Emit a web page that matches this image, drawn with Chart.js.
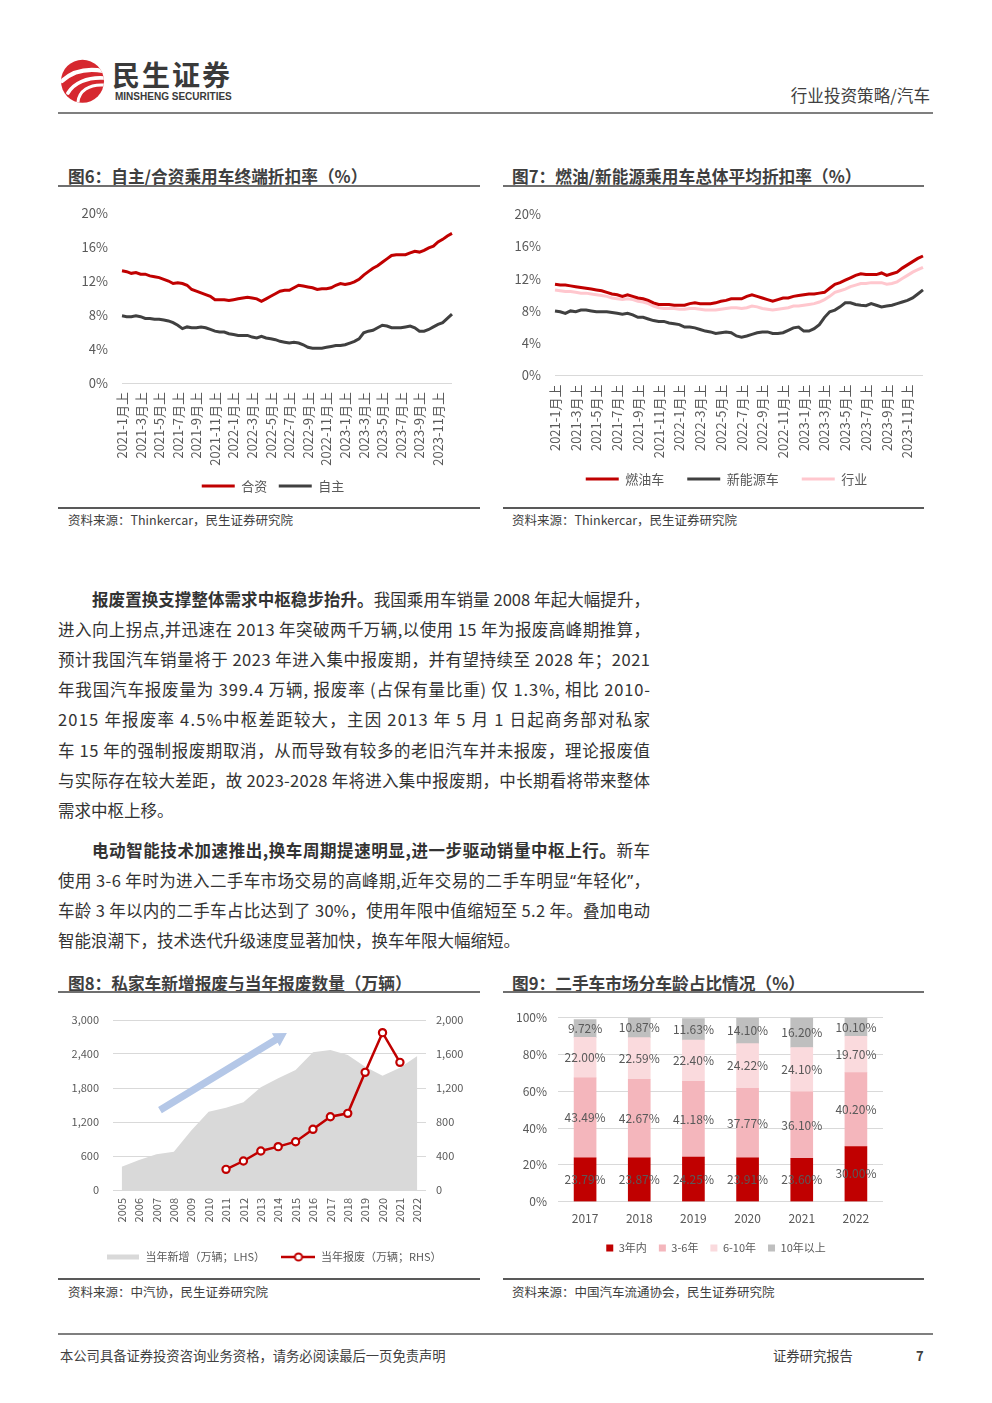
<!DOCTYPE html>
<html lang="zh-CN">
<head>
<meta charset="utf-8">
<title>行业投资策略/汽车</title>
<script src="https://cdn.jsdelivr.net/npm/chart.js@4.4.1/dist/chart.umd.min.js"></script>
<style>
  html, body { margin: 0; padding: 0; background: #fff; }
  body { width: 992px; height: 1403px; position: relative; overflow: hidden;
         font-family: "Noto Sans CJK SC", "Noto Sans", sans-serif; color: #404040; }
  .rule { position: absolute; }
  .fig-title { position: absolute; font-size: 16.7px; font-weight: bold; color: #3f3f3f; line-height: 20px; white-space: nowrap; }
  .src { position: absolute; font-size: 12.5px; color: #404040; line-height: 16px; white-space: nowrap; }
  canvas { position: absolute; }
  .jline { position: absolute; left: 58px; width: 592px; font-size: 16.5px; line-height: 22px; color: #333; white-space: nowrap; }
  .jline b { color: #333; }
  .indent { padding-left: 34px; width: 558px; }
</style>
</head>
<body>

<!-- header -->
<svg style="position:absolute;left:58px;top:56px" width="52" height="52" viewBox="0 0 52 52">
  <defs><clipPath id="logoClip"><circle cx="24.5" cy="25.3" r="21.5"/></clipPath></defs>
  <circle cx="24.5" cy="25.3" r="21.5" fill="#d6282f"/>
  <g clip-path="url(#logoClip)" fill="none" stroke="#fff" stroke-linecap="round">
    <path d="M4 25 C 14 16, 28 12, 45 15" stroke-width="4.2"/>
    <path d="M10 37 C 16 27, 29 21, 46 22" stroke-width="3.6"/>
    <path d="M20 46 C 21 35, 31 28, 46 29" stroke-width="3"/>
  </g>
</svg>
<div style="position:absolute;left:112px;top:58px;font-size:28px;font-weight:bold;color:#3a3a3a;letter-spacing:2px;line-height:32px;white-space:nowrap">民生证券</div>
<div style="position:absolute;left:115px;top:90px;font-family:'Liberation Sans',Arial,sans-serif;font-size:11px;font-weight:bold;color:#3a3a3a;line-height:12px;white-space:nowrap;transform:scaleX(0.91);transform-origin:left top">MINSHENG SECURITIES</div>
<div style="position:absolute;right:62px;top:85px;font-size:16.6px;color:#404040;line-height:20px;white-space:nowrap">行业投资策略/汽车</div>
<div class="rule" style="left:58px;top:112px;width:875px;height:2px;background:#7f7f7f"></div>

<!-- figure 6 / 7 -->
<div class="fig-title" style="left:68px;top:166px">图6：自主/合资乘用车终端折扣率（%）</div>
<div class="rule" style="left:58px;top:185px;width:422px;height:1.5px;background:#6f6f6f"></div>
<div class="fig-title" style="left:512px;top:166px">图7：燃油/新能源乘用车总体平均折扣率（%）</div>
<div class="rule" style="left:503px;top:185px;width:421px;height:1.5px;background:#6f6f6f"></div>
<canvas id="fig6" width="422" height="310" style="left:58px;top:195px"></canvas>
<canvas id="fig7" width="421" height="310" style="left:503px;top:195px"></canvas>
<div class="rule" style="left:58px;top:507px;width:422px;height:2px;background:#595959"></div>
<div class="rule" style="left:503px;top:507px;width:421px;height:2px;background:#595959"></div>
<div class="src" style="left:68px;top:512px">资料来源：Thinkercar，民生证券研究院</div>
<div class="src" style="left:512px;top:512px">资料来源：Thinkercar，民生证券研究院</div>

<!-- body text -->
<div class="jline indent" style="top:588px"><span><b>报废置换支撑整体需求中枢稳步抬升。</b>我国乘用车销量 2008 年起大幅提升，</span></div>
<div class="jline" style="top:618px"><span>进入向上拐点,并迅速在 2013 年突破两千万辆,以使用 15 年为报废高峰期推算，</span></div>
<div class="jline" style="top:648px"><span>预计我国汽车销量将于 2023 年进入集中报废期，并有望持续至 2028 年；2021</span></div>
<div class="jline" style="top:678px"><span>年我国汽车报废量为 399.4 万辆, 报废率 (占保有量比重) 仅 1.3%, 相比 2010-</span></div>
<div class="jline" style="top:708px"><span>2015 年报废率 4.5%中枢差距较大，主因 2013 年 5 月 1 日起商务部对私家</span></div>
<div class="jline" style="top:739px"><span>车 15 年的强制报废期取消，从而导致有较多的老旧汽车并未报废，理论报废值</span></div>
<div class="jline" style="top:769px"><span>与实际存在较大差距，故 2023-2028 年将进入集中报废期，中长期看将带来整体</span></div>
<div class="jline" style="top:799px" data-last="1"><span>需求中枢上移。</span></div>
<div class="jline indent" style="top:839px"><span><b>电动智能技术加速推出,换车周期提速明显,进一步驱动销量中枢上行。</b>新车</span></div>
<div class="jline" style="top:869px"><span>使用 3-6 年时为进入二手车市场交易的高峰期,近年交易的二手车明显<span style="font-family:'Noto Sans',sans-serif">“</span>年轻化<span style="font-family:'Noto Sans',sans-serif">”</span>，</span></div>
<div class="jline" style="top:899px"><span>车龄 3 年以内的二手车占比达到了 30%，使用年限中值缩短至 5.2 年。叠加电动</span></div>
<div class="jline" style="top:929px" data-last="1"><span>智能浪潮下，技术迭代升级速度显著加快，换车年限大幅缩短。</span></div>

<!-- figure 8 / 9 -->
<div class="fig-title" style="left:68px;top:973px">图8：私家车新增报废与当年报废数量（万辆）</div>
<div class="rule" style="left:58px;top:991px;width:422px;height:1.5px;background:#6f6f6f"></div>
<div class="fig-title" style="left:512px;top:973px">图9：二手车市场分车龄占比情况（%）</div>
<div class="rule" style="left:503px;top:991px;width:421px;height:1.5px;background:#6f6f6f"></div>
<canvas id="fig8" width="422" height="275" style="left:58px;top:1000px"></canvas>
<canvas id="fig9" width="421" height="266" style="left:503px;top:1000px"></canvas>
<div class="rule" style="left:58px;top:1278px;width:422px;height:2px;background:#595959"></div>
<div class="rule" style="left:503px;top:1278px;width:421px;height:2px;background:#595959"></div>
<div class="src" style="left:68px;top:1284px">资料来源：中汽协，民生证券研究院</div>
<div class="src" style="left:512px;top:1284px">资料来源：中国汽车流通协会，民生证券研究院</div>

<!-- footer -->
<div class="rule" style="left:58px;top:1333px;width:875px;height:2px;background:#7f7f7f"></div>
<div style="position:absolute;left:60px;top:1347px;font-size:13.3px;color:#404040;line-height:18px;white-space:nowrap">本公司具备证券投资咨询业务资格，请务必阅读最后一页免责声明</div>
<div style="position:absolute;left:773px;top:1347px;font-size:13.3px;color:#404040;line-height:18px;white-space:nowrap">证券研究报告</div>
<div style="position:absolute;left:916px;top:1347px;font-size:13px;font-weight:bold;color:#404040;line-height:18px">7</div>

<script>
// ---- data: fig 6 / 7 (half-month discount rates, %) ----
const halfMonthYears = ['2021', '2022', '2023'];
const halfMonthLabels = [];
halfMonthYears.forEach(y => {
  for (let m = 1; m <= 12; m++) halfMonthLabels.push(`${y}-${m}月上`, `${y}-${m}月下`);
});

const jvRate = [13.2,13.1,12.9,13.0,12.8,12.8,12.6,12.5,12.4,12.2,
  12.0,11.7,11.8,11.7,11.5,11.0,10.8,10.6,10.4,10.2,
  9.8,9.8,9.8,9.7,9.8,9.9,10.0,10.1,10.0,9.9,
  9.6,9.9,10.2,10.5,10.8,10.9,10.9,11.2,11.5,11.4,
  11.3,11.2,11.0,11.1,11.1,11.2,11.5,11.7,11.6,11.7,
  11.9,12.2,12.7,13.1,13.5,13.8,14.2,14.6,15.0,15.1,
  15.1,15.1,15.3,15.5,15.4,15.6,15.9,16.1,16.6,16.9,
  17.3,17.6];
const ownBrandRate = [7.9,7.8,7.8,7.9,7.8,7.6,7.6,7.5,7.5,7.4,
  7.3,7.1,6.8,6.4,6.6,6.5,6.5,6.6,6.5,6.3,
  6.1,6.0,6.0,5.8,5.7,5.6,5.6,5.6,5.4,5.3,
  5.5,5.3,5.2,5.1,4.9,4.8,4.7,4.8,4.7,4.5,
  4.2,4.1,4.1,4.1,4.2,4.3,4.4,4.4,4.5,4.7,
  4.9,5.2,5.9,6.1,6.2,6.5,6.8,6.7,6.5,6.5,
  6.5,6.6,6.7,6.5,6.1,6.1,6.3,6.6,6.9,7.1,
  7.6,8.1];

const fuelRate = [11.3,11.2,11.2,11.1,11.0,10.9,10.8,10.7,10.6,10.5,
  10.3,10.1,10.0,9.8,10.0,9.8,9.6,9.5,9.3,9.0,
  8.8,8.8,8.8,8.7,8.7,8.7,8.9,9.0,8.9,8.9,
  8.9,9.0,9.2,9.3,9.5,9.5,9.5,9.8,10.0,9.8,
  9.6,9.4,9.2,9.4,9.6,9.6,9.8,9.9,10.0,10.1,
  10.1,10.2,10.3,10.8,11.3,11.5,11.8,12.1,12.4,12.6,
  12.5,12.5,12.5,12.7,12.4,12.6,12.8,13.3,13.7,14.1,
  14.5,14.8];
const nevRate = [8.0,7.9,7.7,8.0,7.9,8.1,8.1,8.0,7.9,7.9,
  7.9,7.8,7.7,7.6,7.7,7.5,7.2,7.2,7.0,6.8,
  6.7,6.7,6.5,6.4,6.3,6.0,6.0,5.9,5.7,5.5,
  5.4,5.2,5.3,5.4,5.3,4.9,4.75,4.9,5.1,5.3,
  5.4,5.4,5.2,5.2,5.3,5.6,5.9,6.0,5.5,5.5,
  5.8,6.3,7.2,7.9,8.1,8.5,9.0,9.0,8.8,8.7,
  8.65,8.9,8.7,8.5,8.6,8.7,8.9,9.1,9.3,9.6,
  10.1,10.6];
const industryRate = [10.6,10.5,10.4,10.4,10.3,10.2,10.2,10.1,10.0,9.9,
  9.8,9.6,9.5,9.4,9.5,9.4,9.2,9.1,8.9,8.6,
  8.4,8.3,8.3,8.3,8.2,8.2,8.3,8.3,8.2,8.1,
  8.1,8.1,8.2,8.3,8.4,8.4,8.3,8.4,8.6,8.5,
  8.3,8.2,8.1,8.2,8.3,8.4,8.6,8.6,8.7,8.8,
  8.9,9.1,9.4,9.8,10.3,10.5,10.7,11.0,11.2,11.4,
  11.4,11.5,11.5,11.5,11.3,11.4,11.6,12.0,12.4,12.8,
  13.1,13.4];

// ---- data: fig 8 (万辆) ----
const scrapYears = ['2005','2006','2007','2008','2009','2010','2011','2012','2013',
  '2014','2015','2016','2017','2018','2019','2020','2021','2022'];
const newPrivateCars = [412,530,630,676,1050,1382,1453,1547,1812,1970,2118,2430,2470,2382,2176,2018,2159,2365];
const scrappedCars = [null,null,null,null,null,null,243,341,459,510,568,714,862,902,1384,1851,1502,null];
// trend arrow annotation: [category index, LHS value]
const trendArrowFrom = [2.2, 1410];
const trendArrowTo = [9.5, 2770];

// ---- data: fig 9 (%) ----
const ageYears = ['2017','2018','2019','2020','2021','2022'];
const within3 = [23.79,23.87,24.25,23.91,23.60,30.00];
const from3to6 = [43.49,42.67,41.18,37.77,36.10,40.20];
const from6to10 = [22.00,22.59,22.40,24.22,24.10,19.70];
const over10 = [9.72,10.87,11.63,14.10,16.20,10.10];

const RED = '#c00000';
const DARK = '#404040';
const PINK = '#ffc7ce';
const GRID = '#d9d9d9';
const LABEL = '#595959';

Chart.defaults.font.family = "'Noto Sans CJK SC', 'Noto Sans', sans-serif";
Chart.defaults.color = LABEL;
Chart.defaults.animation = false;
Chart.defaults.plugins.tooltip.enabled = false;

// tick labels may run past their (narrowed) axis boxes, so don't clip them
Chart.register({
  id: 'noLabelClip',
  beforeDraw(chart) {
    Object.values(chart.scales).forEach(s => { s._computeLabelArea = () => undefined; });
  },
});

// justify text lines with letter spacing
document.querySelectorAll('.jline').forEach(el => {
  if (el.dataset.last) return;
  const span = el.firstElementChild;
  const target = el.classList.contains('indent') ? 558 : 592;
  const w = span.getBoundingClientRect().width;
  const n = span.textContent.length;
  span.style.letterSpacing = ((target - w) / (n - 1)) + 'px';
});

const zeroLineOnly = c => (c.tick.value === 0 ? GRID : 'rgba(0,0,0,0)');

function discountChart(id, datasets, pad, yWidth, xHeight, legendPad) {
  return new Chart(document.getElementById(id), {
    type: 'line',
    data: { labels: halfMonthLabels, datasets },
    options: {
      responsive: false,
      layout: { padding: pad },
      elements: { point: { radius: 0 }, line: { borderWidth: 3, tension: 0 } },
      plugins: {
        legend: {
          position: 'bottom',
          labels: { boxWidth: 33, boxHeight: 0, padding: legendPad, font: { size: 13 }, color: LABEL },
        },
      },
      scales: {
        x: {
          grid: { display: false, drawTicks: false },
          border: { display: false },
          ticks: {
            autoSkip: false, minRotation: 90, maxRotation: 90, padding: 9,
            font: { size: 13 }, color: LABEL,
            callback: (v, i) => (i % 4 === 0 ? halfMonthLabels[i] : ''),
          },
          afterFit: s => { s.height = xHeight; s.paddingLeft = 0; s.paddingRight = 0; },
        },
        y: {
          min: 0, max: 20,
          border: { display: false },
          grid: { drawTicks: false, color: zeroLineOnly },
          ticks: { stepSize: 4, padding: 14, font: { size: 13 }, color: LABEL, callback: v => v + '%' },
          afterFit: s => { s.width = yWidth; s.paddingTop = 0; s.paddingBottom = 0; },
        },
      },
    },
  });
}

discountChart('fig6', [
  { label: '合资', data: jvRate, borderColor: RED, backgroundColor: RED },
  { label: '自主', data: ownBrandRate, borderColor: DARK, backgroundColor: DARK },
], { left: 36, right: 28, top: 18, bottom: 2.5 }, 28, 85, 11.5);

discountChart('fig7', [
  { label: '燃油车', data: fuelRate, borderColor: RED, backgroundColor: RED },
  { label: '新能源车', data: nevRate, borderColor: DARK, backgroundColor: DARK },
  { label: '行业', data: industryRate, borderColor: PINK, backgroundColor: PINK },
], { left: 27, right: 1, top: 19, bottom: 9.5 }, 25, 74, 23);

// ---- fig 8 ----
function swatch(w, h, draw) {
  const c = document.createElement('canvas');
  c.width = w; c.height = h;
  draw(c.getContext('2d'), w, h);
  return c;
}
const areaSwatch = swatch(32, 6, (g, w, h) => { g.fillStyle = GRID; g.fillRect(0, 0.5, w, 5); });
const markerSwatch = swatch(34, 12, (g, w, h) => {
  g.strokeStyle = RED; g.lineWidth = 2.5;
  g.beginPath(); g.moveTo(0, h / 2); g.lineTo(w, h / 2); g.stroke();
  g.fillStyle = '#fff'; g.lineWidth = 2;
  g.beginPath(); g.arc(w / 2, h / 2, 3.6, 0, Math.PI * 2); g.fill(); g.stroke();
});

const trendArrowPlugin = {
  id: 'trendArrow',
  beforeDatasetsDraw(chart) {
    const { ctx, scales: { x, y } } = chart;
    const x0 = x.getPixelForValue(trendArrowFrom[0]), y0 = y.getPixelForValue(trendArrowFrom[1]);
    const x1 = x.getPixelForValue(trendArrowTo[0]), y1 = y.getPixelForValue(trendArrowTo[1]);
    const ang = Math.atan2(y1 - y0, x1 - x0);
    const len = Math.hypot(x1 - x0, y1 - y0);
    const shaft = 3.6, headW = 7.5, headL = 13;
    ctx.save();
    ctx.translate(x0, y0);
    ctx.rotate(ang);
    ctx.fillStyle = '#b4c7e7';
    ctx.beginPath();
    ctx.moveTo(0, -shaft);
    ctx.lineTo(len - headL, -shaft);
    ctx.lineTo(len - headL, -headW);
    ctx.lineTo(len, 0);
    ctx.lineTo(len - headL, headW);
    ctx.lineTo(len - headL, shaft);
    ctx.lineTo(0, shaft);
    ctx.closePath();
    ctx.fill();
    ctx.restore();
  },
};

new Chart(document.getElementById('fig8'), {
  type: 'line',
  data: {
    labels: scrapYears,
    datasets: [
      { label: '当年新增（万辆；LHS）', data: newPrivateCars, yAxisID: 'y', order: 1,
        fill: 'origin', backgroundColor: GRID, borderWidth: 0, pointRadius: 0 },
      { label: '当年报废（万辆；RHS）', data: scrappedCars, yAxisID: 'y1', order: 0,
        borderColor: RED, backgroundColor: RED, borderWidth: 2.5,
        pointRadius: 3.6, pointBorderWidth: 2.2, pointBackgroundColor: '#fff', pointBorderColor: RED },
    ],
  },
  options: {
    responsive: false,
    layout: { padding: { left: 9.5, right: 0, top: 20, bottom: 2.5 } },
    plugins: {
      legend: {
        position: 'bottom',
        labels: {
          usePointStyle: true, pointStyleWidth: 34, padding: 16.5, font: { size: 11 }, color: LABEL,
          sort: (a, b) => a.datasetIndex - b.datasetIndex,
          generateLabels(chart) {
            const items = Chart.defaults.plugins.legend.labels.generateLabels(chart);
            items.forEach(it => { it.pointStyle = it.datasetIndex === 0 ? areaSwatch : markerSwatch; });
            return items;
          },
        },
      },
    },
    scales: {
      x: {
        offset: true,
        grid: { display: false, drawTicks: false },
        border: { display: false },
        ticks: { autoSkip: false, minRotation: 90, maxRotation: 90, padding: 8, font: { size: 11 }, color: LABEL },
        afterFit: s => { s.height = 45; s.paddingLeft = 0; s.paddingRight = 0; },
      },
      y: {
        position: 'left', min: 0, max: 3000,
        border: { display: false },
        grid: { drawTicks: false, color: GRID },
        ticks: { stepSize: 600, padding: 14, font: { size: 11 }, color: LABEL, callback: v => v.toLocaleString('en-US') },
        afterFit: s => { s.width = 45.5; s.paddingTop = 0; s.paddingBottom = 0; },
      },
      y1: {
        position: 'right', min: 0, max: 2000,
        border: { display: false },
        grid: { display: false, drawTicks: false },
        ticks: { stepSize: 400, padding: 10, font: { size: 11 }, color: LABEL, callback: v => v.toLocaleString('en-US') },
        afterFit: s => { s.width = 54; s.paddingTop = 0; s.paddingBottom = 0; },
      },
    },
  },
  plugins: [trendArrowPlugin],
});

// ---- fig 9 ----
const segmentLabelPlugin = {
  id: 'segmentLabels',
  afterDatasetsDraw(chart) {
    const { ctx } = chart;
    ctx.save();
    ctx.font = "12px 'Noto Sans CJK SC', 'Noto Sans', sans-serif";
    ctx.fillStyle = LABEL;
    ctx.textAlign = 'center';
    ctx.textBaseline = 'middle';
    chart.data.datasets.forEach((ds, di) => {
      chart.getDatasetMeta(di).data.forEach((bar, i) => {
        ctx.fillText(ds.data[i].toFixed(2) + '%', bar.x, (bar.y + bar.base) / 2);
      });
    });
    ctx.restore();
  },
};

new Chart(document.getElementById('fig9'), {
  type: 'bar',
  data: {
    labels: ageYears,
    datasets: [
      { label: '3年内', data: within3, backgroundColor: RED },
      { label: '3-6年', data: from3to6, backgroundColor: '#f4b6bc' },
      { label: '6-10年', data: from6to10, backgroundColor: '#fadadd' },
      { label: '10年以上', data: over10, backgroundColor: '#bfbfbf' },
    ],
  },
  options: {
    responsive: false,
    layout: { padding: { left: 46, right: 41, top: 17.7, bottom: 2.5 } },
    datasets: { bar: { barThickness: 22 } },
    plugins: {
      legend: {
        position: 'bottom',
        labels: { boxWidth: 7, boxHeight: 7, padding: 12, font: { size: 11 }, color: LABEL },
      },
    },
    scales: {
      x: {
        stacked: true,
        grid: { display: false, drawTicks: false },
        border: { display: false },
        ticks: { padding: 10, font: { size: 12 }, color: LABEL },
        afterFit: s => { s.height = 28.8; s.paddingLeft = 0; s.paddingRight = 0; },
      },
      y: {
        stacked: true, min: 0, max: 100,
        border: { display: false },
        grid: { drawTicks: false, color: GRID },
        ticks: { stepSize: 20, padding: 11, font: { size: 12 }, color: LABEL, callback: v => v + '%' },
        afterFit: s => { s.width = 9; s.paddingTop = 0; s.paddingBottom = 0; },
      },
    },
  },
  plugins: [segmentLabelPlugin],
});
</script>
</body>
</html>
